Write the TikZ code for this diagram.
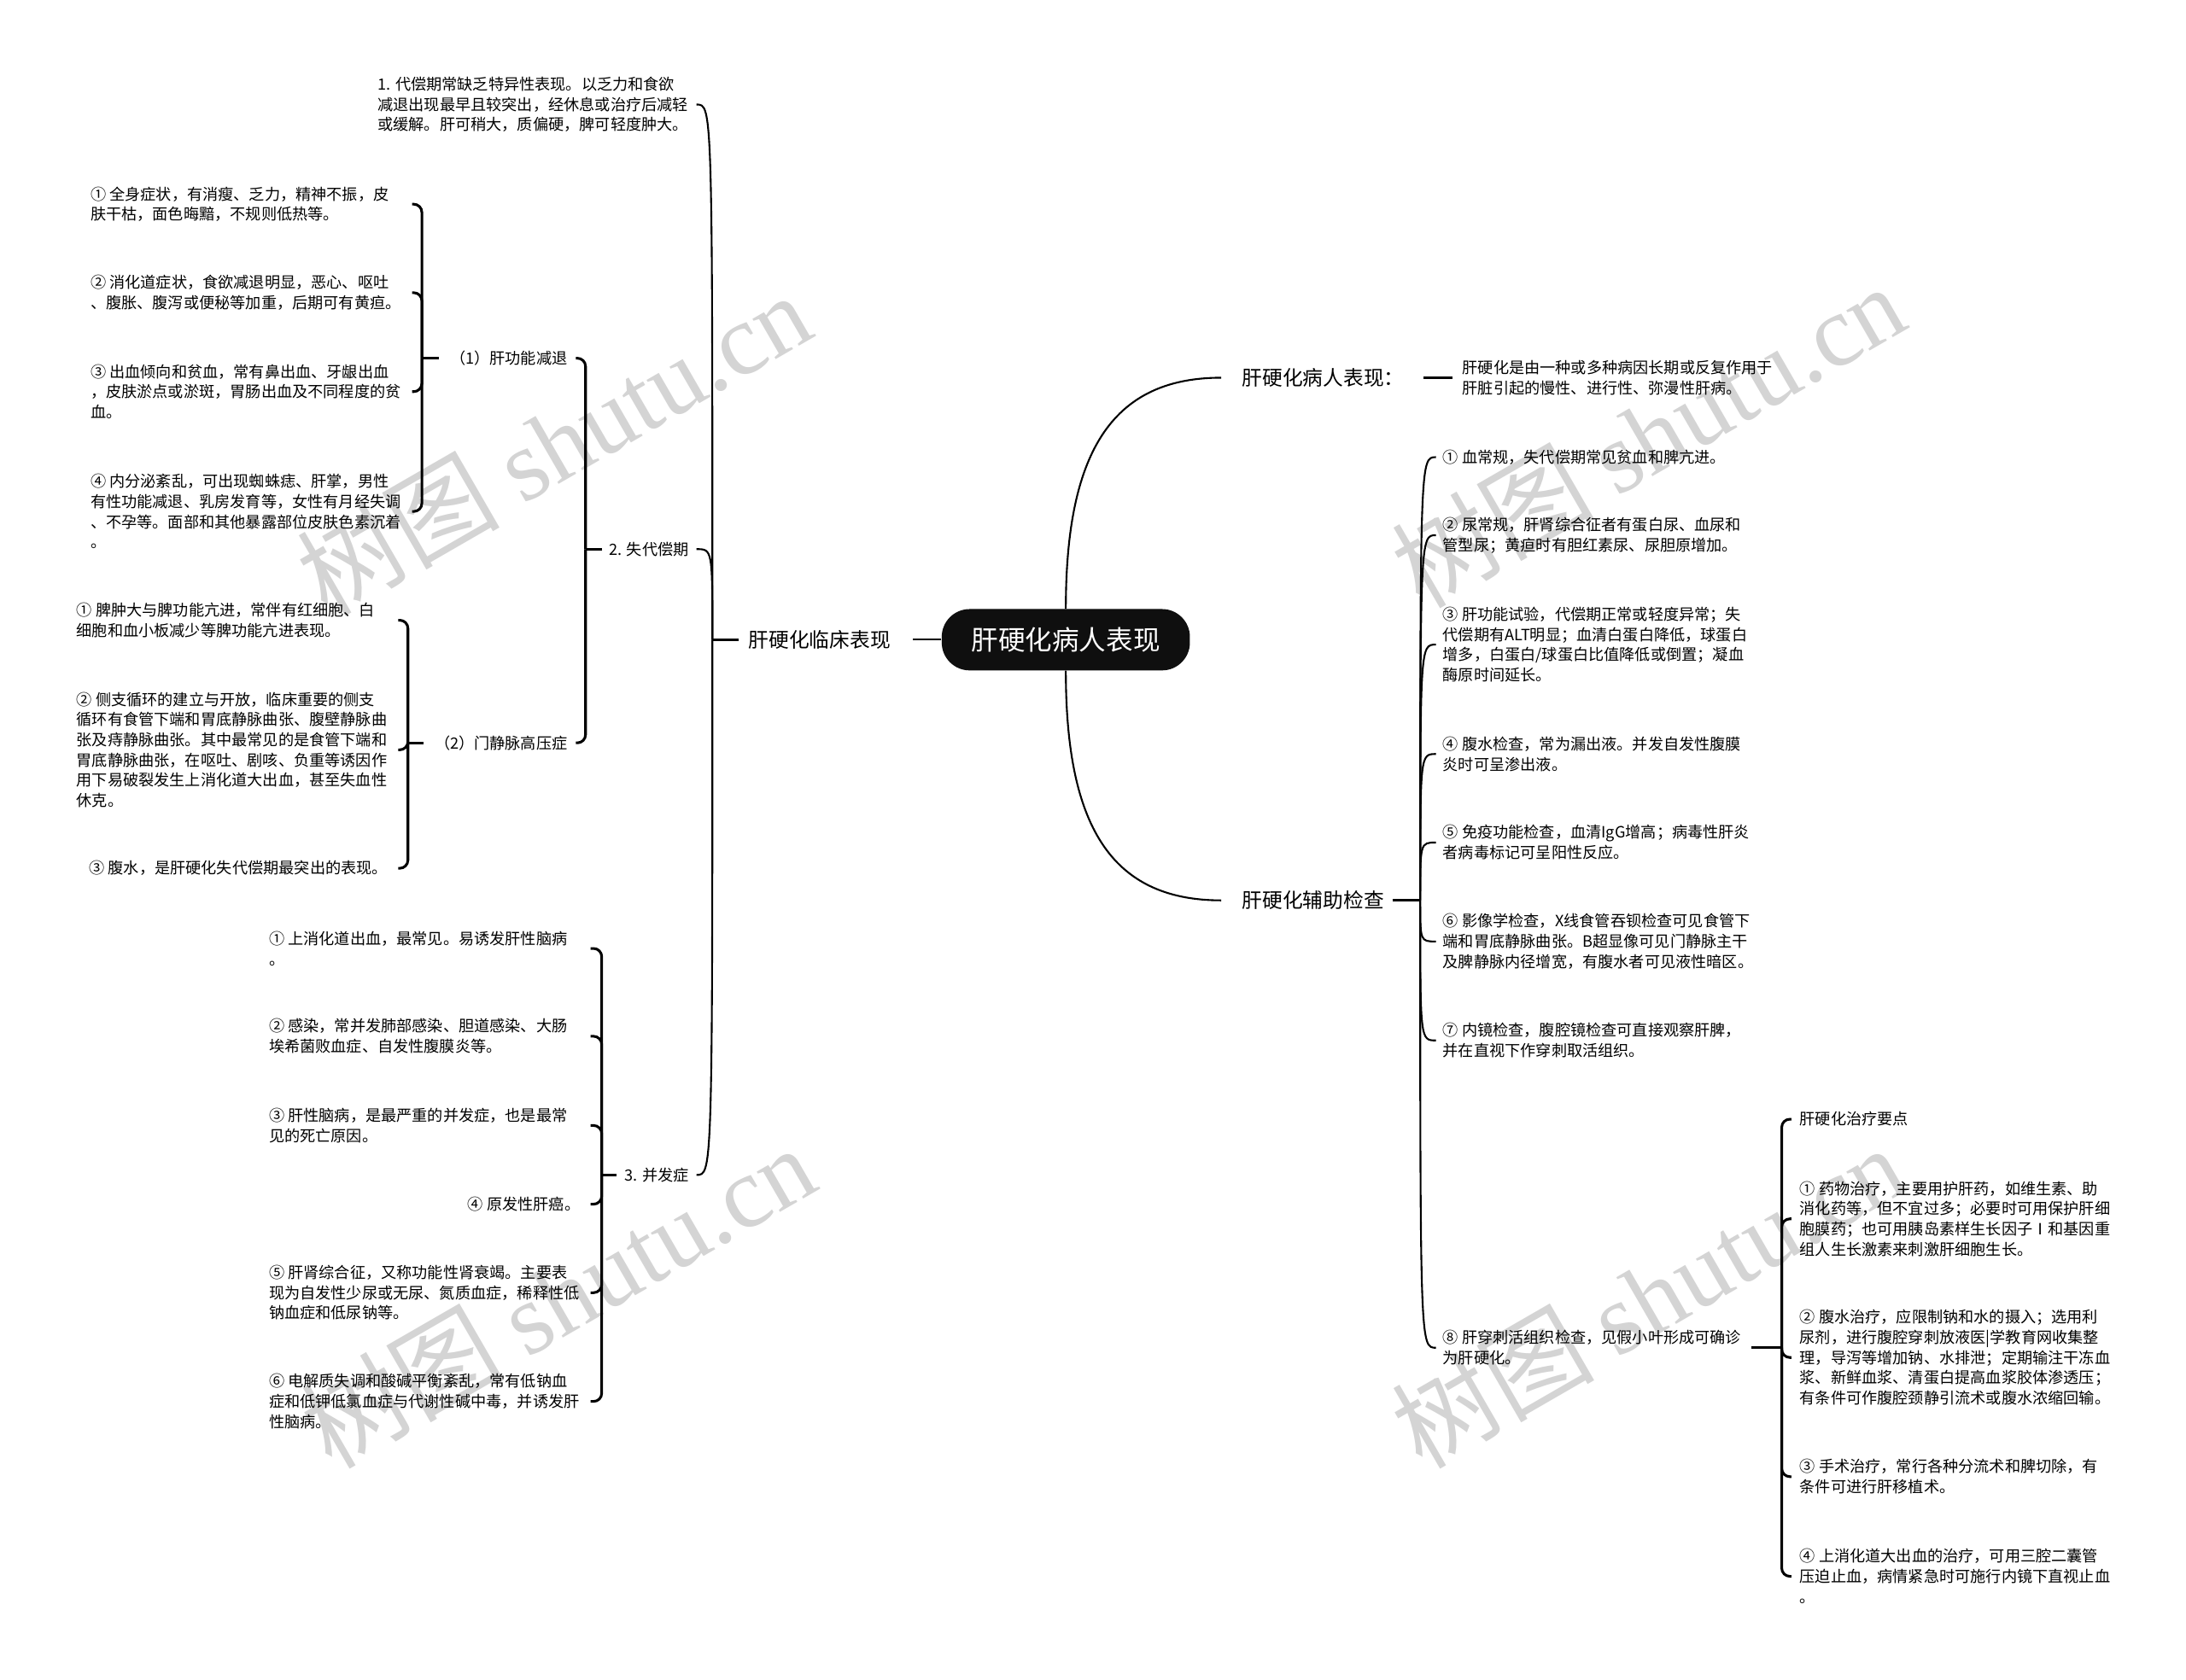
\documentclass[tikz,border=0pt]{standalone}
\usepackage{fontspec}
\setmainfont{Noto Sans CJK SC}
\newfontfamily\wmserif{Liberation Serif}
\usetikzlibrary{calc}
\begin{document}
\begin{tikzpicture}[x=0.03cm,y=-0.03cm,
  txt/.style={inner sep=0pt, outer sep=0pt, align=left, font=\fontsize{9.5}{12.4}\selectfont},
  lone/.style={inner sep=0pt, outer sep=0pt, font=\fontsize{12.4}{15}\selectfont},
  rootbox/.style={fill=black!94, text=white, rounded corners=0.6cm, minimum width=5.34cm, minimum height=1.32cm, inner sep=0pt, font=\fontsize{16.5}{20}\selectfont},
  brk/.style={line width=1.6pt, rounded corners=5pt},
  crv/.style={line width=1.1pt},
  rootc/.style={line width=1.1pt},
  wm/.style={text=black!17, rotate=30, font=\fontsize{62}{70}\selectfont, inner sep=0pt}
]
\useasboundingbox (0,0) rectangle (1568,1205);
\fill[white] (0,0) rectangle (1568,1205);

% watermarks
\node[wm] (wm1) at (397,318) {树图 {\wmserif shutu.cn}};
\node[wm] (wm2) at (400,930) {树图 {\wmserif shutu.cn}};
\node[wm] (wm3) at (1182,312) {树图 {\wmserif shutu.cn}};
\node[wm] (wm4) at (1182,930) {树图 {\wmserif shutu.cn}};

% root
\node[rootbox] (root) at (764.5,459) {肝硬化病人表现};

% level 1
\node[lone, anchor=west] (L) at (537,459) {肝硬化临床表现};
\node[lone, anchor=west] (R1) at (891,271) {肝硬化病人表现：};
\node[lone, anchor=west] (R2) at (891,646) {肝硬化辅助检查};

% right: description
\node[txt, anchor=west] (D) at (1049,271) {肝硬化是由一种或多种病因长期或反复作用于\\肝脏引起的慢性、进行性、弥漫性肝病。};

% right: examinations
\node[txt, anchor=west] (B1) at (1035,328) {① 血常规，失代偿期常见贫血和脾亢进。};
\node[txt, anchor=west] (B2) at (1035,384) {② 尿常规，肝肾综合征者有蛋白尿、血尿和\\管型尿；黄疸时有胆红素尿、尿胆原增加。};
\node[txt, anchor=west] (B3) at (1035,462.5) {③ 肝功能试验，代偿期正常或轻度异常；失\\代偿期有ALT明显；血清白蛋白降低，球蛋白\\增多，白蛋白/球蛋白比值降低或倒置；凝血\\酶原时间延长。};
\node[txt, anchor=west] (B4) at (1035,541) {④ 腹水检查，常为漏出液。并发自发性腹膜\\炎时可呈渗出液。};
\node[txt, anchor=west] (B5) at (1035,604.5) {⑤ 免疫功能检查，血清IgG增高；病毒性肝炎\\者病毒标记可呈阳性反应。};
\node[txt, anchor=west] (B6) at (1035,675.5) {⑥ 影像学检查，X线食管吞钡检查可见食管下\\端和胃底静脉曲张。B超显像可见门静脉主干\\及脾静脉内径增宽，有腹水者可见液性暗区。};
\node[txt, anchor=west] (B7) at (1035,746.5) {⑦ 内镜检查，腹腔镜检查可直接观察肝脾，\\并在直视下作穿刺取活组织。};
\node[txt, anchor=west] (B8) at (1035,967) {⑧ 肝穿刺活组织检查，见假小叶形成可确诊\\为肝硬化。};

% treatment
\node[txt, anchor=west] (C0) at (1291,803) {肝硬化治疗要点};
\node[txt, anchor=west] (C1) at (1291,874.5) {① 药物治疗，主要用护肝药，如维生素、助\\消化药等，但不宜过多；必要时可用保护肝细\\胞膜药；也可用胰岛素样生长因子Ⅰ和基因重\\组人生长激素来刺激肝细胞生长。};
\node[txt, anchor=west] (C2) at (1291,974) {② 腹水治疗，应限制钠和水的摄入；选用利\\尿剂，进行腹腔穿刺放液医|学教育网收集整\\理，导泻等增加钠、水排泄；定期输注干冻血\\浆、新鲜血浆、清蛋白提高血浆胶体渗透压；\\有条件可作腹腔颈静引流术或腹水浓缩回输。};
\node[txt, anchor=west] (C3) at (1291,1059.5) {③ 手术治疗，常行各种分流术和脾切除，有\\条件可进行肝移植术。};
\node[txt, anchor=west] (C4) at (1291,1131) {④ 上消化道大出血的治疗，可用三腔二囊管\\压迫止血，病情紧急时可施行内镜下直视止血\\。};

% left: level 2
\node[txt, anchor=west] (A1) at (271,75) {1. 代偿期常缺乏特异性表现。以乏力和食欲\\减退出现最早且较突出，经休息或治疗后减轻\\或缓解。肝可稍大，质偏硬，脾可轻度肿大。};
\node[txt, anchor=east] (A2) at (494,394) {2. 失代偿期};
\node[txt, anchor=east] (A3) at (494,843) {3. 并发症};

\node[txt, anchor=east] (A21) at (407,257) {（1）肝功能减退};
\node[txt, anchor=east] (A22) at (407,533) {（2）门静脉高压症};

\node[txt, anchor=west] (a1) at (65,146.5) {① 全身症状，有消瘦、乏力，精神不振，皮\\肤干枯，面色晦黯，不规则低热等。};
\node[txt, anchor=west] (a2) at (65,210) {② 消化道症状，食欲减退明显，恶心、呕吐\\、腹胀、腹泻或便秘等加重，后期可有黄疸。};
\node[txt, anchor=west] (a3) at (65,281) {③ 出血倾向和贫血，常有鼻出血、牙龈出血\\，皮肤淤点或淤斑，胃肠出血及不同程度的贫\\血。};
\node[txt, anchor=west] (a4) at (65,367) {④ 内分泌紊乱，可出现蜘蛛痣、肝掌，男性\\有性功能减退、乳房发育等，女性有月经失调\\、不孕等。面部和其他暴露部位皮肤色素沉着\\。};

\node[txt, anchor=west] (b1) at (55,445) {① 脾肿大与脾功能亢进，常伴有红细胞、白\\细胞和血小板减少等脾功能亢进表现。};
\node[txt, anchor=west] (b2) at (55,538) {② 侧支循环的建立与开放，临床重要的侧支\\循环有食管下端和胃底静脉曲张、腹壁静脉曲\\张及痔静脉曲张。其中最常见的是食管下端和\\胃底静脉曲张，在呕吐、剧咳、负重等诱因作\\用下易破裂发生上消化道大出血，甚至失血性\\休克。};
\node[txt, anchor=east] (b3) at (278,623) {③ 腹水，是肝硬化失代偿期最突出的表现。};

\node[txt, anchor=west] (c1) at (193,680.5) {① 上消化道出血，最常见。易诱发肝性脑病\\。};
\node[txt, anchor=west] (c2) at (193,743.5) {② 感染，常并发肺部感染、胆道感染、大肠\\埃希菌败血症、自发性腹膜炎等。};
\node[txt, anchor=west] (c3) at (193,807.5) {③ 肝性脑病，是最严重的并发症，也是最常\\见的死亡原因。};
\node[txt, anchor=east] (c4) at (416,864) {④ 原发性肝癌。};
\node[txt, anchor=west] (c5) at (193,927.5) {⑤ 肝肾综合征，又称功能性肾衰竭。主要表\\现为自发性少尿或无尿、氮质血症，稀释性低\\钠血症和低尿钠等。};
\node[txt, anchor=west] (c6) at (193,1005.5) {⑥ 电解质失调和酸碱平衡紊乱，常有低钠血\\症和低钾低氯血症与代谢性碱中毒，并诱发肝\\性脑病。};

% ===== connectors =====
% root to level 1
\draw[rootc] (root.west) -- ($(L.east)+(16,0)$);
\draw[rootc] (root.north) .. controls +(0,-110) and +(-80,0) .. ($(R1.west)+(-15,0)$);
\draw[rootc] (root.south) .. controls +(0,110) and +(-80,0) .. ($(R2.west)+(-15,0)$);

% R1 -> D
\draw[brk] ($(R1.east)+(14,0)$) -- ($(D.west)+(-7,0)$);

% R2 -> B*
\coordinate (J2) at ($(R2.east)+(26,0)$);
\draw[brk] ($(R2.east)+(6,0)$) -- (J2);
\foreach \n in {B1,B2,B3,B4,B5,B6,B7,B8}{
  \draw[crv] (J2) .. controls (J2 |- \n.west) .. ($(\n.west)+(-5,0)$);
}

% B8 -> C*
\coordinate (J3) at ($(C0.west |- B8.east)+(-13,0)$);
\draw[brk] ($(B8.east)+(7,0)$) -- (J3);
\foreach \n in {C0,C1,C2,C3,C4}{
  \draw[brk] (J3) |- ($(C0.west |- \n.west)+(-6,0)$);
}

% L -> A*
\coordinate (J0) at ($(L.west)+(-26,0)$);
\draw[brk] ($(L.west)+(-7,0)$) -- (J0);
\foreach \n in {A1,A2,A3}{
  \draw[crv] (J0) .. controls (J0 |- \n.east) .. ($(A1.east |- \n.east)+(6,0)$);
}

% A2 -> A21, A22
\coordinate (JA2) at ($(A21.east |- A2.west)+(13,0)$);
\draw[brk] ($(A2.west)+(-5,0)$) -- (JA2);
\foreach \n in {A21,A22}{
  \draw[brk] (JA2) |- ($(A21.east |- \n.east)+(6,0)$);
}

% A21 -> a*
\coordinate (JA21) at ($(a3.east |- A21.west)+(15,0)$);
\draw[brk] ($(A21.west)+(-8,0)$) -- (JA21);
\foreach \n in {a1,a2,a3,a4}{
  \draw[brk] (JA21) |- ($(a3.east |- \n.center)+(8,0)$);
}

% A22 -> b*
\coordinate (JA22) at ($(b2.east |- A22.west)+(15,0)$);
\draw[brk] ($(A22.west)+(-8,0)$) -- (JA22);
\foreach \n in {b1,b2,b3}{
  \draw[brk] (JA22) |- ($(b2.east |- \n.center)+(8,0)$);
}

% A3 -> c*
\coordinate (JA3) at ($(c5.east |- A3.west)+(16,0)$);
\draw[brk] ($(A3.west)+(-6,0)$) -- (JA3);
\foreach \n in {c1,c2,c3,c4,c5,c6}{
  \draw[brk] (JA3) |- ($(c5.east |- \n.center)+(8,0)$);
}
\end{tikzpicture}
\end{document}
